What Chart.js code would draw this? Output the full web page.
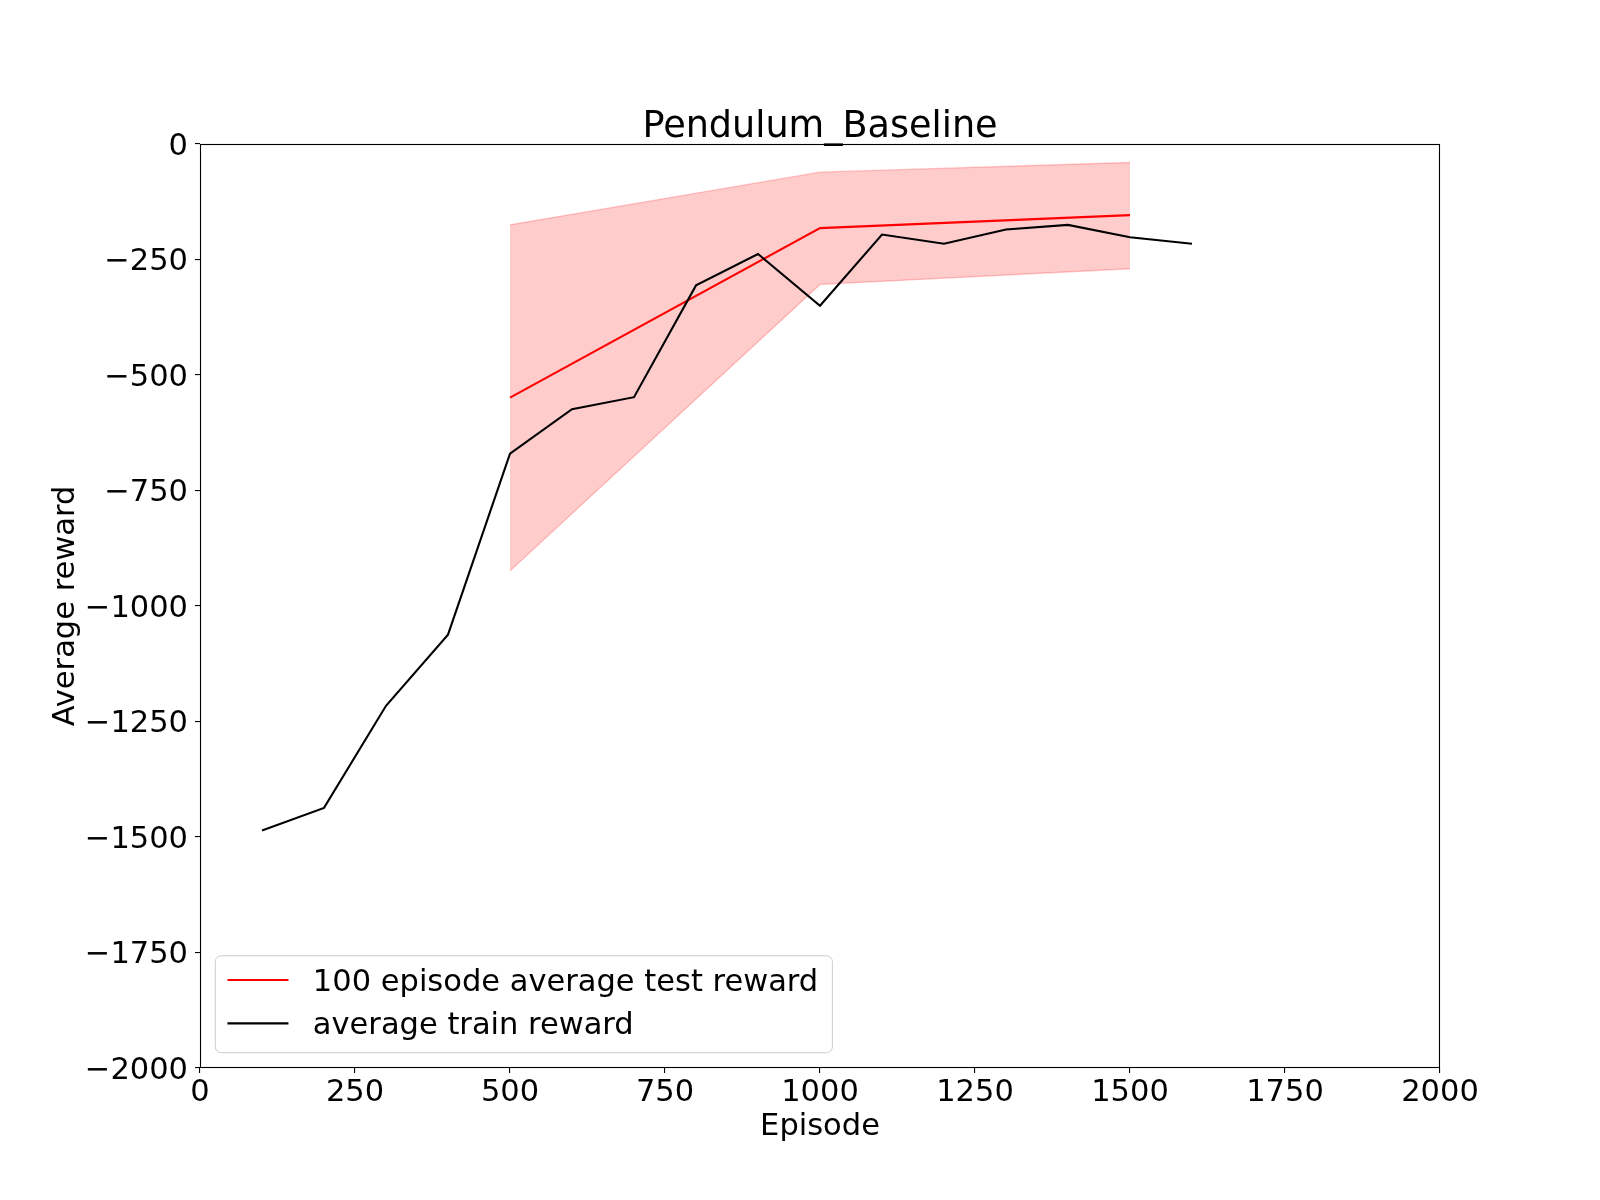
<!DOCTYPE html>
<html>
<head>
<meta charset="utf-8">
<style>
  html, body { margin: 0; padding: 0; background: #ffffff; }
  #wrap { width: 1600px; height: 1200px; }
</style>
<script src="https://cdn.jsdelivr.net/npm/chart.js@4.4.1/dist/chart.umd.min.js"></script>
</head>
<body>
<div id="wrap"><canvas id="c" width="1600" height="1200"></canvas></div>
<script>
// ---- data ----
const trainEpisodes = [100, 200, 300, 400, 500, 600, 700, 800, 900, 1000, 1100, 1200, 1300, 1400, 1500, 1600];
const trainReward   = [-1486, -1437, -1216, -1062, -670, -574, -548, -306, -238, -350, -196, -216, -185, -175, -202, -216];
const testEpisodes  = [500, 1000, 1500];
const testReward    = [-549, -182, -154];
const testUpper     = [-175, -61, -40];
const testLower     = [-924, -304, -270];
const xTicks = [0, 250, 500, 750, 1000, 1250, 1500, 1750, 2000];
const yTicks = [0, -250, -500, -750, -1000, -1250, -1500, -1750, -2000];
const chartTitle = 'Pendulum_Baseline';
const xTitle = 'Episode';
const yTitle = 'Average reward';
const testLabel = '100 episode average test reward';
const trainLabel = 'average train reward';

const pts = (xs, ys) => xs.map((x, i) => ({ x: x, y: ys[i] }));
const FS = 30.5;
const FAMILY = '"DejaVu Sans", "Liberation Sans", sans-serif';

Chart.defaults.font.family = FAMILY;
Chart.defaults.color = '#000000';

const fmt = v => (v < 0 ? '\u2212' + Math.abs(v) : String(v));

const framePlugin = {
  id: 'frame',
  afterDatasetsDraw(chart) {
    const { ctx, chartArea: a } = chart;
    ctx.save();
    ctx.strokeStyle = '#000000';
    ctx.lineWidth = 1.1;
    ctx.strokeRect(Math.round(a.left) + 0.5, Math.round(a.top) + 0.5,
                   Math.round(a.right - a.left) - 1, Math.round(a.bottom - a.top) - 1);
    ctx.restore();
  }
};

const legendPlugin = {
  id: 'mplLegend',
  afterDraw(chart) {
    const { ctx, chartArea: a } = chart;
    const items = chart.data.datasets.filter(d => d.inLegend).sort((p, q) => p.legendIndex - q.legendIndex);
    ctx.save();
    ctx.font = FS + 'px ' + FAMILY;
    const textW = Math.max.apply(null, items.map(d => ctx.measureText(d.label).width));
    const axpad = 0.5 * FS, bpad = 0.4 * FS, hl = 2 * FS, htp = 0.8 * FS;
    const w = bpad + hl + htp + textW + bpad + 2;
    const h = 97;
    const x0 = a.left + axpad;
    const y0 = a.bottom - axpad - h;
    const r = 6;
    ctx.beginPath();
    ctx.moveTo(x0 + r, y0);
    ctx.lineTo(x0 + w - r, y0);
    ctx.arcTo(x0 + w, y0, x0 + w, y0 + r, r);
    ctx.lineTo(x0 + w, y0 + h - r);
    ctx.arcTo(x0 + w, y0 + h, x0 + w - r, y0 + h, r);
    ctx.lineTo(x0 + r, y0 + h);
    ctx.arcTo(x0, y0 + h, x0, y0 + h - r, r);
    ctx.lineTo(x0, y0 + r);
    ctx.arcTo(x0, y0, x0 + r, y0, r);
    ctx.closePath();
    ctx.fillStyle = 'rgba(255,255,255,0.8)';
    ctx.fill();
    ctx.strokeStyle = '#cccccc';
    ctx.lineWidth = 1;
    ctx.stroke();
    items.forEach((d, i) => {
      const cy = y0 + 24.3 + i * 43.3;
      ctx.beginPath();
      ctx.moveTo(x0 + bpad, cy);
      ctx.lineTo(x0 + bpad + hl, cy);
      ctx.strokeStyle = d.borderColor;
      ctx.lineWidth = 2.1;
      ctx.stroke();
      ctx.fillStyle = '#000000';
      ctx.textBaseline = 'alphabetic';
      ctx.textAlign = 'left';
      ctx.fillText(d.label, x0 + bpad + hl + htp, cy + 10.5);
    });
    ctx.restore();
  }
};

new Chart(document.getElementById('c'), {
  type: 'line',
  data: {
    datasets: [
      {
        label: 'test upper',
        data: pts(testEpisodes, testUpper),
        borderColor: 'rgba(255,0,0,0.22)',
        backgroundColor: 'rgba(255,0,0,0.2)',
        borderWidth: 1.3,
        pointRadius: 0,
        fill: '+1',
        order: 2
      },
      {
        label: 'test lower',
        data: pts(testEpisodes, testLower),
        borderColor: 'rgba(255,0,0,0.22)',
        backgroundColor: 'rgba(255,0,0,0.2)',
        borderWidth: 1.3,
        pointRadius: 0,
        fill: false,
        order: 3
      },
      {
        label: testLabel,
        data: pts(testEpisodes, testReward),
        borderColor: '#ff0000',
        borderWidth: 2.1,
        pointRadius: 0,
        fill: false,
        order: 1,
        inLegend: true,
        legendIndex: 0
      },
      {
        label: trainLabel,
        data: pts(trainEpisodes, trainReward),
        borderColor: '#000000',
        borderWidth: 2.1,
        pointRadius: 0,
        fill: false,
        order: 0,
        inLegend: true,
        legendIndex: 1
      }
    ]
  },
  options: {
    responsive: false,
    devicePixelRatio: 1,
    animation: false,
    events: [],
    layout: { padding: { top: 0, left: 0, right: 160, bottom: 0 } },
    plugins: {
      legend: { display: false },
      tooltip: { enabled: false },
      title: {
        display: true,
        text: chartTitle,
        fullSize: false,
        color: '#000000',
        font: { family: FAMILY, size: 36.6, weight: 'normal', lineHeight: 0.88 },
        padding: { top: 111.7, bottom: 0.1 }
      }
    },
    scales: {
      x: {
        type: 'linear',
        min: 0,
        max: 2000,
        afterBuildTicks: s => { s.ticks = xTicks.map(v => ({ value: v })); },
        afterFit: s => { s.height = 132; },
        ticks: {
          autoSkip: false,
          maxRotation: 0,
          padding: 2,
          color: '#000000',
          font: { family: FAMILY, size: FS },
          callback: v => fmt(v)
        },
        grid: { display: true, drawOnChartArea: false, drawTicks: true, tickLength: 5, color: '#000000', lineWidth: 1.1 },
        border: { display: false },
        title: {
          display: true,
          text: xTitle,
          color: '#000000',
          font: { family: FAMILY, size: FS, lineHeight: 1.2 },
          padding: { top: 0, bottom: 55 }
        }
      },
      y: {
        type: 'linear',
        min: -2000,
        max: 0,
        afterBuildTicks: s => { s.ticks = yTicks.slice().reverse().map(v => ({ value: v })); },
        afterFit: s => { s.width = 200; },
        ticks: {
          autoSkip: false,
          padding: 7,
          labelOffset: 3,
          color: '#000000',
          font: { family: FAMILY, size: FS },
          callback: v => fmt(v)
        },
        grid: { display: true, drawOnChartArea: false, drawTicks: true, tickLength: 5, color: '#000000', lineWidth: 1.1 },
        border: { display: false },
        title: {
          display: true,
          text: yTitle,
          color: '#000000',
          font: { family: FAMILY, size: FS, lineHeight: 1.2 },
          padding: { top: 48, bottom: 0 }
        }
      }
    }
  },
  plugins: [framePlugin, legendPlugin]
});
</script>
</body>
</html>
